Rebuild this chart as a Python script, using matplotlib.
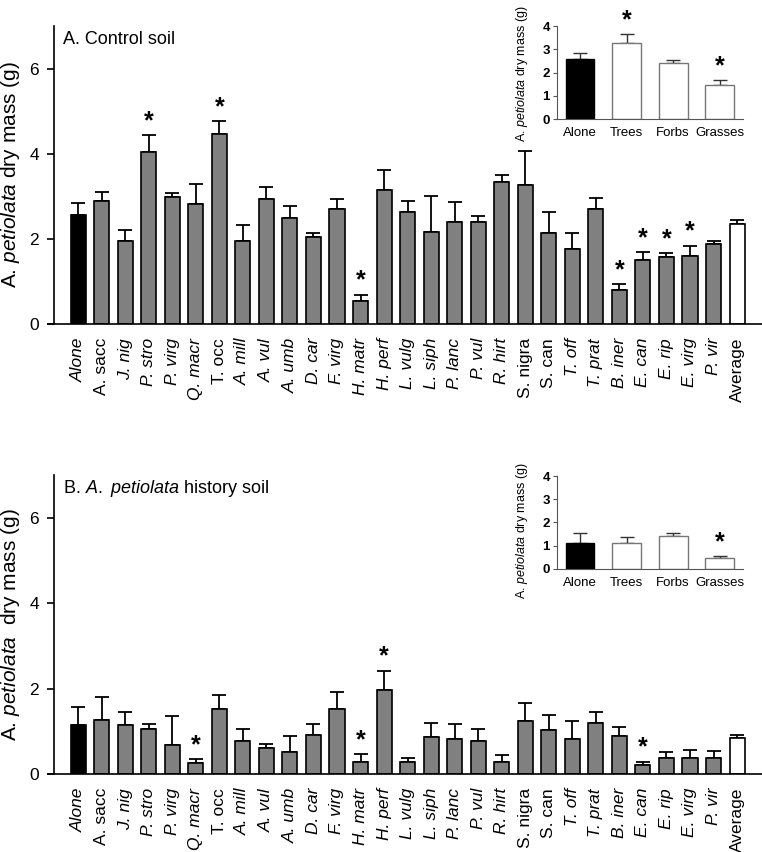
import matplotlib
matplotlib.use("Agg")
import matplotlib.pyplot as plt
import numpy as np

plt.rcParams['font.family'] = ['Liberation Sans', 'DejaVu Sans']
plt.rcParams['mathtext.fontset'] = 'custom'
plt.rcParams['mathtext.rm'] = 'Liberation Sans'
plt.rcParams['mathtext.it'] = 'Liberation Sans:italic'

species = ["Alone", "A. sacc", "J. nig", "P. stro", "P. virg", "Q. macr", "T. occ",
           "A. mill", "A. vul", "A. umb", "D. car", "F. virg", "H. matr", "H. perf",
           "L. vulg", "L. siph", "P. lanc", "P. vul", "R. hirt", "S. nigra", "S. can",
           "T. off", "T. prat", "B. iner", "E. can", "E. rip", "E. virg", "P. vir",
           "Average"]
upright = ["A. sacc", "T. occ", "S. nigra", "S. can", "Average"]

# panel A, control soil
ctrl_mean = [2.57, 2.89, 1.95, 4.05, 2.98, 2.81, 4.46, 1.95, 2.93, 2.49, 2.04, 2.69, 0.54, 3.14,
             2.62, 2.15, 2.40, 2.40, 3.33, 3.27, 2.13, 1.75, 2.71, 0.79, 1.51, 1.57, 1.60, 1.87,
             2.36]
ctrl_se = [0.27, 0.21, 0.26, 0.39, 0.09, 0.48, 0.31, 0.37, 0.29, 0.28, 0.10, 0.24, 0.15, 0.47,
           0.27, 0.86, 0.47, 0.14, 0.16, 0.80, 0.51, 0.38, 0.26, 0.15, 0.17, 0.10, 0.24, 0.09,
           0.09]
ctrl_sig = ["P. stro", "T. occ", "H. matr", "B. iner", "E. can", "E. rip", "E. virg"]

# panel B, A. petiolata history soil
hist_mean = [1.14, 1.27, 1.14, 1.06, 0.67, 0.25, 1.53, 0.77, 0.60, 0.52, 0.91, 1.52, 0.27, 1.97,
             0.28, 0.86, 0.81, 0.77, 0.27, 1.24, 1.02, 0.81, 1.20, 0.88, 0.20, 0.37, 0.37, 0.37,
             0.84]
hist_se = [0.43, 0.53, 0.30, 0.11, 0.68, 0.09, 0.32, 0.29, 0.11, 0.36, 0.26, 0.40, 0.19, 0.45,
           0.10, 0.34, 0.36, 0.29, 0.18, 0.43, 0.35, 0.42, 0.24, 0.23, 0.09, 0.15, 0.19, 0.16,
           0.07]
hist_sig = ["Q. macr", "H. matr", "H. perf", "E. can"]

# insets
groups = ["Alone", "Trees", "Forbs", "Grasses"]
ctrl_grp_mean = [2.57, 3.28, 2.41, 1.45]
ctrl_grp_se = [0.29, 0.37, 0.15, 0.22]
ctrl_grp_sig = ["Trees", "Grasses"]
hist_grp_mean = [1.12, 1.13, 1.40, 0.45]
hist_grp_se = [0.43, 0.22, 0.12, 0.10]
hist_grp_sig = ["Grasses"]

W, H = 762, 852
fig = plt.figure(figsize=(W / 100, H / 100), dpi=100)


def px_axes(l, r, b, t):
    return fig.add_axes([l / W, 1 - b / H, (r - l) / W, (b - t) / H])


def star(ax, x, y):
    ax.annotate("*", (x, y), xytext=(0, 5), textcoords="offset points",
                ha="center", va="baseline", fontsize=18, fontweight="bold")


def main_panel(ax, mean, se, sig, title, ylabel):
    x = np.arange(len(species))
    colors = ["#808080"] * len(species)
    colors[0] = "black"
    colors[-1] = "white"
    ax.errorbar(x, mean, yerr=[np.zeros(len(se)), se], fmt="none", ecolor="black",
                elinewidth=1.3, capsize=5, capthick=1.3, zorder=1)
    ax.bar(x, mean, width=0.64, color=colors, edgecolor="black", linewidth=1.2, zorder=2)
    for name in sig:
        i = species.index(name)
        star(ax, i, mean[i] + se[i])
    ax.set_xlim(-1.28, 29.06)
    ax.set_ylim(0, 7)
    ax.set_yticks([0, 2, 4, 6])
    ax.spines[["top", "right"]].set_visible(False)
    ax.spines["left"].set_position(("data", -1.02))
    ax.spines["left"].set_linewidth(1.2)
    ax.spines["bottom"].set_linewidth(1.2)
    ax.tick_params(axis="y", direction="out", length=5, width=1.2, labelsize=12.5, pad=6)
    ax.set_xticks(x)
    ax.set_xticklabels(species, rotation=90, fontsize=12.5)
    for lab, name in zip(ax.get_xticklabels(), species):
        lab.set_fontstyle("normal" if name in upright else "italic")
    ax.tick_params(axis="x", length=0, pad=10)
    ax.set_ylabel(ylabel, fontsize=15)
    ax.yaxis.set_label_coords(-0.037, 0.5)
    ax.text(0.021, 0.955, title, transform=ax.transAxes, fontsize=13, va="center", ha="left")


def inset(ax, mean, se, sig, label_y):
    x = np.arange(len(groups))
    ax.errorbar(x, mean, yerr=[np.zeros(len(se)), se], fmt="none", ecolor="#333333",
                elinewidth=1.0, capsize=5, capthick=1.0, zorder=1)
    ax.bar(x, mean, width=0.62, color=["black", "white", "white", "white"],
           edgecolor=["black", "#777777", "#777777", "#777777"], linewidth=1.0, zorder=2)
    for name in sig:
        i = groups.index(name)
        star(ax, i, mean[i] + se[i])
    ax.set_xlim(-0.5, 3.5)
    ax.set_ylim(0, 4)
    ax.set_yticks([0, 1, 2, 3, 4])
    ax.set_xticks(x)
    ax.set_xticklabels(groups, fontsize=9.5)
    ax.patch.set_alpha(0)
    ax.spines[["top", "right"]].set_visible(False)
    ax.spines["left"].set_color("#555555")
    ax.spines["bottom"].set_color("#555555")
    ax.tick_params(axis="x", length=0, pad=6)
    ax.tick_params(axis="y", length=3, color="#555555", labelsize=9.5, pad=2)
    for lab in ax.get_yticklabels():
        lab.set_fontweight("bold")
    ax.set_ylabel(r"A. $\mathit{petiolata}$ dry mass (g)", fontsize=9)
    ax.yaxis.set_label_coords(-0.145, label_y)


ax1 = px_axes(48, 762, 324, 26)
main_panel(ax1, ctrl_mean, ctrl_se, ctrl_sig, "A. Control soil",
           r"A. $\mathit{petiolata}$ dry mass (g)")
ax2 = px_axes(48, 762, 774, 475)
main_panel(ax2, hist_mean, hist_se, hist_sig, r"B. $\mathit{A.\ petiolata}$ history soil",
           r"A. $\mathit{petiolata}$  dry mass (g)")

ins1 = px_axes(556.7, 743, 119, 26.3)
inset(ins1, ctrl_grp_mean, ctrl_grp_se, ctrl_grp_sig, 0.49)
ins2 = px_axes(556.7, 743, 568.7, 476)
inset(ins2, hist_grp_mean, hist_grp_se, hist_grp_sig, 0.41)

fig.savefig("out.png", dpi=100)
